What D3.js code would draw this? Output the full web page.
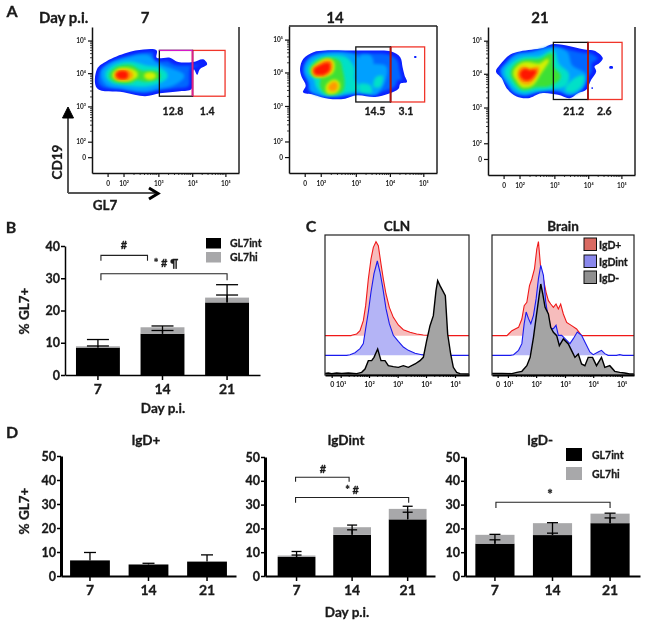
<!DOCTYPE html>
<html>
<head>
<meta charset="utf-8">
<script src="https://cdn.jsdelivr.net/npm/d3@7"></script>
<style>
html,body{margin:0;padding:0;background:#fff}
svg{display:block;filter:blur(0.35px)}
text{font-family:Lato,"Open Sans",sans-serif;font-weight:700;fill:#1a1a1a;stroke:#1a1a1a;stroke-width:.3px}
</style>
</head>
<body>
<svg id="fig" width="645" height="625"></svg>
<script>
// ---------- DATA ----------
const days = ["7","14","21"];

// Panel A: density levels on the cytometer's display channels (GL7, CD19)
const levelColors = ["#0a20ff","#00a0ff","#00e0c8","#3ce034","#d4f000","#ff9a00","#ff1800"];
const density7 = [
 [[[15,315],[45,340],[105,365],[155,375],[195,372],[195,350],[235,350],[260,337],[305,337],[335,345],[347,330],[325,315],[317,298],[307,315],[303,295],[300,255],[265,248],[205,242],[160,233],[95,245],[15,257]]],
 [[[30,305],[55,330],[110,348],[165,355],[195,330],[235,315],[275,295],[245,270],[195,258],[155,250],[95,258],[45,270]]],
 [[[43,298],[65,323],[110,335],[155,325],[205,315],[225,295],[200,275],[155,265],[95,270],[60,277]]],
 [[[55,295],[75,318],[115,325],[145,308],[195,305],[203,292],[165,280],[135,285],[110,275],[70,280]]],
 [[[65,296],[85,315],[120,312],[135,298],[110,282],[80,284]],[[160,295],[175,303],[190,295],[175,286]]],
 [[[70,296],[90,311],[115,305],[120,295],[100,284],[77,287]]],
 [[[75,298],[90,308],[105,302],[103,290],[85,288]]]
];
const density14 = [
 [[[33,314],[43,344],[73,364],[108,369],[168,369],[248,369],[306,366],[333,349],[340,319],[346,294],[353,274],[333,269],[328,254],[298,239],[258,229],[203,234],[168,224],[118,224],[73,236],[42,243],[50,264],[38,289]],
  [[375,352],[381,352],[381,347],[375,347]]],
 [[[48,309],[63,342],[108,359],[188,356],[228,329],[288,319],[288,289],[258,239],[223,244],[178,239],[108,234],[68,249],[63,274]],[[215,350],[240,352],[250,332],[222,332]]],
 [[[58,309],[73,334],[108,349],[168,346],[193,314],[193,284],[203,254],[168,244],[108,239],[83,264],[78,284]],[[213,265],[240,262],[245,245],[215,247]],[[262,285],[278,290],[270,262],[256,262]]],
 [[[66,309],[83,332],[113,344],[148,336],[158,304],[163,264],[153,244],[113,242],[96,264],[98,289],[78,292]]],
 [[[70,309],[88,329],[116,342],[133,329],[128,304],[103,292],[78,294]],[[113,259],[136,279],[150,264],[138,244],[118,242]]],
 [[[73,309],[93,326],[118,339],[128,324],[120,306],[98,294],[80,296]],[[120,256],[136,272],[143,262],[133,249]]],
 [[[76,309],[98,324],[118,329],[120,314],[103,299],[83,299]]]
];
const density21 = [
 [[[24,310],[36,330],[66,360],[96,370],[131,375],[166,380],[196,392],[296,375],[321,372],[346,350],[336,335],[321,325],[326,310],[311,285],[296,255],[271,245],[246,230],[211,240],[161,245],[121,230],[86,235],[56,260],[41,290]],
  [[366,325],[376,325],[376,319],[366,319]],[[312,262],[316,262],[316,258],[312,258]]],
 [[[41,310],[56,330],[86,358],[131,365],[196,380],[236,365],[251,325],[291,300],[281,260],[246,242],[216,255],[161,255],[111,242],[81,250],[61,275]]],
 [[[53,308],[76,335],[106,350],[161,355],[196,370],[211,330],[241,300],[231,270],[191,260],[141,255],[106,250],[81,265],[66,285]],[[236,255],[261,285],[286,295],[281,270],[251,250]]],
 [[[71,305],[86,330],[111,342],[161,345],[191,360],[196,320],[216,295],[186,270],[141,265],[106,258],[86,275]]],
 [[[79,305],[96,328],[116,335],[156,330],[181,345],[156,305],[131,270],[106,265],[89,285]]],
 [[[91,302],[106,322],[126,315],[151,320],[141,295],[121,275],[103,280]]],
 [[[99,302],[111,315],[126,310],[143,312],[133,295],[116,285],[106,290]]]
];
const gates7  = {x0:203,xm:303,x1:401,y0:233,y1:372};
const gates14 = {x0:200,xm:304,x1:406,y0:214,y1:380};
const gates21 = {x0:197,xm:301,x1:404,y0:226,y1:397};
const stats7  = ["12.8","1.4"];
const stats14 = ["14.5","3.1"];
const stats21 = ["21.2","2.6"];
const flowTickVals = [47,95,200,302,402];
const flowXLabels = ["0","10²","10³","10⁴","10⁵"];
const flowYTickVals = [48,95,202,303,402];

// Panel B
const bInt = [8.5,12.8,22.5];
const bHi  = [0.4,2.0,1.5];
const bIntErr = [9.0,13.8,24.8];
const bTotErr = [11.0,15.2,28.0];

// Panel C histograms: [channel, height]
const clnRed = [[0,0],[78,0],[80,1],[95,5],[105,15],[115,45],[122,90],[130,170],[138,230],[145,265],[153,282],[160,270],[168,215],[175,170],[183,125],[193,85],[205,55],[220,32],[235,18],[255,10],[275,5],[295,2],[315,1],[325,0],[432,0]];
const clnBlue = [[0,0],[65,0],[75,2],[90,8],[105,20],[115,35],[122,80],[130,130],[138,190],[147,245],[157,283],[165,250],[173,205],[183,140],[193,95],[205,60],[220,42],[235,25],[250,15],[270,6],[290,2],[305,0],[432,0]];
const clnBlack = [[0,2],[10,3],[20,1],[35,3],[50,2],[70,3],[95,1],[110,5],[120,15],[130,40],[140,40],[147,50],[158,75],[168,40],[180,40],[190,25],[205,22],[220,20],[235,25],[250,20],[270,30],[285,40],[295,50],[305,100],[315,145],[325,175],[333,250],[338,280],[345,265],[353,250],[361,235],[368,120],[377,60],[385,20],[395,5],[405,1],[432,0]];
const brainRed = [[0,0],[45,0],[50,5],[60,15],[70,20],[80,25],[90,50],[97,90],[105,100],[113,150],[120,170],[128,200],[135,260],[140,282],[147,200],[155,170],[163,130],[170,105],[177,95],[185,85],[193,95],[200,80],[207,95],[215,65],[225,40],[240,30],[255,20],[270,0],[428,0]];
const brainBlue = [[0,0],[55,0],[65,2],[80,15],[90,35],[97,95],[103,130],[110,110],[117,95],[125,120],[133,170],[140,230],[147,270],[155,240],[162,160],[170,110],[177,80],[185,80],[193,90],[200,60],[210,60],[220,50],[235,35],[245,50],[257,70],[270,60],[280,40],[295,10],[305,2],[320,10],[330,15],[340,5],[350,0],[375,0],[385,2],[395,0],[428,0]];
const brainBlack = [[0,2],[30,2],[60,1],[75,5],[90,8],[105,25],[115,50],[125,110],[133,170],[140,220],[147,270],[153,240],[160,200],[170,180],[177,140],[185,125],[195,115],[203,85],[215,105],[230,90],[240,70],[250,50],[260,60],[270,30],[280,25],[290,50],[303,50],[315,25],[330,50],[340,20],[355,25],[370,8],[385,5],[400,3],[415,0],[428,0]];
const histOffsets = [118,59,3];
const histLabels = ["0","10¹","10²","10³","10⁴","10⁵"];
const clnTicks = [20,47,132,218,303,390];
const brainTicks = [17,48,133,220,305,391];
const igdNames = ["IgD+","IgDint","IgD-"];

// Panel D
const d1Int = [6.5,4.8,6.0];
const d1Hi  = [0,0,0];
const d1IntErr = [9.8,5.3,8.8];
const d1TotErr = [null,null,null];
const d2Int = [8.0,17.3,23.8];
const d2Hi  = [0.6,3.2,4.4];
const d2IntErr = [8.8,19.4,26.8];
const d2TotErr = [10.3,21.4,29.3];
const d3Int = [13.6,17.2,22.2];
const d3Hi  = [3.7,5.0,4.0];
const d3IntErr = [15.2,18.0,24.4];
const d3TotErr = [17.5,22.4,26.4];
const seriesNames = ["GL7int","GL7hi"];

// ---------- DRAW ----------
const svg = d3.select("#fig");
const hiColor = "#a8a8aa";

function label(x,y,txt,size,anchor,rot){
  const t = svg.append("text").attr("font-size",size).attr("text-anchor",anchor||"middle").text(txt);
  if(rot) t.attr("transform",`translate(${x},${y}) rotate(${rot})`);
  else t.attr("x",x).attr("y",y);
  return t;
}
[["A",12,17],["B",11,233],["C",311,232],["D",12,438]].forEach(d=>label(d[1],d[2],d[0],16));

const defs = svg.append("defs");
const soft = defs.append("filter").attr("id","soft").attr("x","-20%").attr("y","-20%").attr("width","140%").attr("height","140%");
soft.append("feMorphology").attr("operator","dilate").attr("radius",1).attr("result","d");
soft.append("feGaussianBlur").attr("in","d").attr("stdDeviation",1.4);
const inset = defs.append("filter").attr("id","inset").attr("x","-20%").attr("y","-20%").attr("width","140%").attr("height","140%");
inset.append("feMorphology").attr("operator","erode").attr("radius",3).attr("result","e");
inset.append("feGaussianBlur").attr("in","e").attr("stdDeviation",1.5);

function flowPanel(idx,frame,levels,g,stats){
  const x = d3.scaleLinear().domain([0,443]).range([frame.l,frame.r]);
  const y = d3.scaleLinear().domain([0,443]).range([frame.b,frame.t]);
  const root = svg.append("g");
  const line = d3.line().x(d=>x(d[0])).y(d=>y(d[1])).curve(d3.curveCatmullRomClosed.alpha(0.5));
  levels.forEach((polys,i)=>{
    const lg = root.append("g");
    if(i>0) lg.attr("filter","url(#soft)");
    lg.selectAll("path").data(polys).join("path").attr("d",line).attr("fill",levelColors[i]);
    if(i===0) root.append("g").attr("filter","url(#inset)").append("path").attr("d",line(polys[0])).attr("fill","#0066ff");
  });
  // gates
  root.append("rect").attr("x",x(g.xm)).attr("y",y(g.y1)).attr("width",x(g.x1)-x(g.xm)).attr("height",y(g.y0)-y(g.y1))
    .attr("fill","none").attr("stroke","#f0352a").attr("stroke-width",1.3);
  root.append("rect").attr("x",x(g.x0)).attr("y",y(g.y1)).attr("width",x(g.xm)-x(g.x0)).attr("height",y(g.y0)-y(g.y1))
    .attr("fill","none").attr("stroke","#111").attr("stroke-width",1.3);
  root.append("line").attr("x1",x(g.xm)).attr("x2",x(g.xm)).attr("y1",y(g.y1)).attr("y2",y(g.y0))
    .attr("stroke",idx===0?"#e0208c":"#b01510").attr("stroke-width",1.8);
  if(idx===0) root.append("line").attr("x1",x(g.x0)).attr("x2",x(g.xm)).attr("y1",y(g.y1)).attr("y2",y(g.y1))
    .attr("stroke","#d818c8").attr("stroke-width",1.3);
  // axes
  const minor = [];
  [2,3,4].forEach((d,k)=>d3.range(2,10).forEach(m=>minor.push(flowTickVals[k+1]+Math.log10(m)*(flowTickVals[k+2]-flowTickVals[k+1]))));
  const gx = root.append("g").attr("transform",`translate(0,${frame.b})`)
    .call(d3.axisBottom(x).tickValues(flowTickVals).tickFormat((d,i)=>flowXLabels[i]).tickSize(4).tickSizeOuter(0).tickPadding(4));
  const gy = root.append("g").attr("transform",`translate(${frame.l},0)`)
    .call(d3.axisLeft(y).tickValues(flowYTickVals).tickFormat((d,i)=>flowXLabels[i]).tickSize(4).tickSizeOuter(0).tickPadding(2));
  [gx,gy].forEach(a=>{a.selectAll("text").attr("font-size",6.5).style("font-family","Lato").style("stroke-width","0");
    a.selectAll(".tick line").attr("stroke-width",1.2).attr("stroke","#111");
    a.select(".domain").attr("stroke-width",1.5).attr("stroke","#111");});
  root.selectAll(".mx").data(minor).join("line").attr("x1",d=>x(d)).attr("x2",d=>x(d)).attr("y1",frame.b).attr("y2",frame.b+2).attr("stroke","#111").attr("stroke-width",.8);
  root.selectAll(".my").data(minor).join("line").attr("y1",d=>y(d)).attr("y2",d=>y(d)).attr("x1",frame.l).attr("x2",frame.l-2).attr("stroke","#111").attr("stroke-width",.8);
  root.append("line").attr("x1",frame.r).attr("x2",frame.r).attr("y1",frame.t).attr("y2",frame.b).attr("stroke","#222").attr("stroke-width",1.5);
  if(frame.closed) root.append("line").attr("x1",frame.l).attr("x2",frame.r).attr("y1",frame.t).attr("y2",frame.t).attr("stroke","#222").attr("stroke-width",1.5);
  // stats
  label(x((g.x0+g.xm)/2+frame.s0),115,stats[0],10.5);
  label(x((g.xm+g.x1)/2+frame.s1),115,stats[1],10.5);
}
flowPanel(0,{l:92,r:239,t:27,b:173,s0:-9,s1:-5},density7,gates7,stats7);
flowPanel(1,{l:289,r:437,t:26,b:173,closed:true,s0:5,s1:-5},density14,gates14,stats14);
flowPanel(2,{l:488,r:635,t:27,b:175,s0:9,s1:-2},density21,gates21,stats21);

label(39,23,"Day p.i.",15,"start");
label(145,23,days[0],15); label(335,23,days[1],15); label(540,23,days[2],15);
// axis arrows
svg.append("path").attr("d","M68,193V112M68,193H155").attr("fill","none").attr("stroke","#555").attr("stroke-width",2);
svg.append("path").attr("d","M62.5,118L68,107L73.5,118Z").attr("fill","#000").attr("stroke","#000");
svg.append("path").attr("d","M149,188L158,193.5L149,199").attr("fill","none").attr("stroke","#000").attr("stroke-width",3);
label(62,162,"CD19",13.5,"middle",-90);
label(105,210,"GL7",13.5);

// stacked bars
function barPanel(c){
  const x = d3.scaleBand().domain(days).range(c.xr).paddingInner(.32).paddingOuter(c.po).align(c.al||.5);
  const y = d3.scaleLinear().domain([0,c.max]).range([c.y0,c.yt]);
  const rows = days.map((d,i)=>({day:d,[seriesNames[0]]:c.int[i],[seriesNames[1]]:c.hi[i]}));
  const st = d3.stack().keys(seriesNames)(rows);
  const g = svg.append("g");
  g.selectAll(".s").data(st).join("g").attr("fill",(d,i)=>i?hiColor:"#000")
    .selectAll("rect").data(d=>d).join("rect")
    .attr("x",d=>x(d.data.day)).attr("width",x.bandwidth())
    .attr("y",d=>y(d[1])).attr("height",d=>y(d[0])-y(d[1]));
  // error bars
  const err = (vals,base)=>{
    days.forEach((d,i)=>{
      if(vals[i]==null) return;
      const cx = x(d)+x.bandwidth()/2;
      g.append("line").attr("x1",cx).attr("x2",cx).attr("y1",y(base[i])).attr("y2",y(vals[i])).attr("stroke","#000").attr("stroke-width",1.3);
      g.append("line").attr("x1",cx-c.cap).attr("x2",cx+c.cap).attr("y1",y(vals[i])).attr("y2",y(vals[i])).attr("stroke","#000").attr("stroke-width",1.3);
    });
  };
  err(c.totErr,c.int); err(c.intErr,c.int);
  const gx = g.append("g").attr("transform",`translate(0,${c.y0})`).call(d3.axisBottom(x).tickSize(5).tickSizeOuter(0).tickPadding(4));
  const gy = g.append("g").attr("transform",`translate(${c.xr[0]},0)`).call(d3.axisLeft(y).ticks(c.max/10).tickSize(4).tickSizeOuter(0).tickPadding(1));
  gx.select(".domain").attr("stroke-width",c.xw).attr("stroke","#000");
  gy.select(".domain").attr("stroke-width",c.yw).attr("stroke","#000");
  gx.selectAll(".tick line").attr("stroke-width",1.5).attr("stroke","#000");
  gy.selectAll(".tick line").attr("stroke-width",1.5).attr("stroke","#000");
  gx.selectAll("text").attr("font-size",14).style("font-family","Lato");
  gy.selectAll("text").attr("font-size",12.5).style("font-family","Lato");
  return {x,y,g};
}
function bracket(p,a,b,yTop,yTip,offA,offB){
  const cx = d=>p.x(d)+p.x.bandwidth()/2;
  const xa = cx(a)+offA, xb = cx(b)+offB;
  p.g.append("path").attr("d",d3.line()([[xa,p.y(yTip)],[xa,p.y(yTop)],[xb,p.y(yTop)],[xb,p.y(yTip)]]))
    .attr("fill","none").attr("stroke","#222").attr("stroke-width",1.1);
}
function legend(x,y1,y2,w,h,tx){
  [[y1,"#000",seriesNames[0]],[y2,hiColor,seriesNames[1]]].forEach(r=>{
    svg.append("rect").attr("x",x).attr("y",r[0]).attr("width",w).attr("height",h).attr("fill",r[1]);
    label(tx,r[0]+h-2,r[2],10.5,"start");
  });
}

const pb = barPanel({xr:[65,260],po:.17,y0:375,yt:246,max:40,int:bInt,hi:bHi,intErr:bIntErr,totErr:bTotErr,cap:11,xw:1.5,yw:1.5});
bracket(pb,days[0],days[1],37.1,35.4,3,-15);
bracket(pb,days[0],days[2],31.4,29.4,3,0);
label(124,249,"#",11);
label(166,267,"* # ¶",11);
label(29,311,"% GL7+",13.5,"middle",-90);
label(163,413,"Day p.i.",13.5);
legend(206,238,252,15,10.5,230);

const d1 = barPanel({xr:[61,236],po:.155,y0:576,yt:456,max:50,int:d1Int,hi:d1Hi,intErr:d1IntErr,totErr:d1TotErr,cap:6,xw:2,yw:3});
const d2 = barPanel({xr:[265,435],po:.19,al:.6,y0:576,yt:457,max:50,int:d2Int,hi:d2Hi,intErr:d2IntErr,totErr:d2TotErr,cap:5,xw:2,yw:3});
const d3p = barPanel({xr:[465,640],po:.18,y0:576,yt:457,max:50,int:d3Int,hi:d3Hi,intErr:d3IntErr,totErr:d3TotErr,cap:5.5,xw:2,yw:3});
bracket(d2,days[0],days[1],41.5,39.6,-1,-3);
bracket(d2,days[0],days[2],33,30.8,-1,1);
label(323,473,"#",11);
label(352,494,"* #",11);
bracket(d3p,days[0],days[2],31,28.6,1,0);
label(550,499,"*",13);
label(146,445,igdNames[0],13.5);
label(346,445,igdNames[1],13.5);
label(540,445,igdNames[2],13.5);
label(29,511,"% GL7+",13.5,"middle",-90);
label(347,617,"Day p.i.",13.5);
legend(566,448,467,16,13,592);

// Panel C
const histFill = ["#f6bcbc","#b4b4f6","#a4a4a4"];
const histStroke = ["#f01818","#1a1aee","#000"];
function histPanel(frame,title,sets,ticks,dom){
  const x = d3.scaleLinear().domain([0,dom]).range([frame.l,frame.r]);
  const y = d3.scaleLinear().domain([0,420]).range([frame.b,frame.t]);
  const g = svg.append("g");
  sets.forEach((s,i)=>{
    const off = histOffsets[i];
    g.append("path").attr("fill",histFill[i])
      .attr("d",d3.area().x(d=>x(d[0])).y0(y(off)).y1(d=>y(d[1]+off))(s));
    g.append("path").attr("fill","none").attr("stroke",histStroke[i]).attr("stroke-width",i==2?1.4:1.1)
      .attr("d",d3.line().x(d=>x(d[0])).y(d=>y(d[1]+off))(s));
  });
  g.append("rect").attr("x",frame.l).attr("y",frame.t).attr("width",frame.r-frame.l).attr("height",frame.b-frame.t)
    .attr("fill","none").attr("stroke","#222").attr("stroke-width",1.2);
  const gx = g.append("g").attr("transform",`translate(0,${frame.b})`)
    .call(d3.axisBottom(x).tickValues(ticks).tickFormat((d,i)=>histLabels[i]).tickSize(3).tickSizeOuter(0).tickPadding(4));
  gx.selectAll("text").attr("font-size",7).style("font-family","Lato").style("stroke-width","0");
  gx.selectAll(".tick line").attr("stroke","#000").attr("stroke-width",1.2);
  gx.select(".domain").attr("stroke","#000").attr("stroke-width",2);
  const minor=[];
  [0,1,2,3].forEach(k=>d3.range(2,10).forEach(m=>minor.push(ticks[k+1]+Math.log10(m)*(ticks[k+2]-ticks[k+1]))));
  g.selectAll(".m").data(minor).join("line").attr("x1",d=>x(d)).attr("x2",d=>x(d)).attr("y1",frame.b).attr("y2",frame.b+2).attr("stroke","#000").attr("stroke-width",.8);
  label((frame.l+frame.r)/2,231,title,13.5);
}
histPanel({l:325,r:469,t:235,b:375},"CLN",[clnRed,clnBlue,clnBlack],clnTicks,432);
histPanel({l:492,r:634,t:235,b:375},"Brain",[brainRed,brainBlue,brainBlack],brainTicks,428);
[["#d96a62",238],["#8a88ec",255],["#8f8f8f",271]].forEach((d,i)=>{
  svg.append("rect").attr("x",584).attr("y",d[1]).attr("width",12.5).attr("height",12.5)
    .attr("fill",d[0]).attr("stroke","#111").attr("stroke-width",1);
  label(599,d[1]+10.5,igdNames[i],10.5,"start");
});
</script>
</body>
</html>
